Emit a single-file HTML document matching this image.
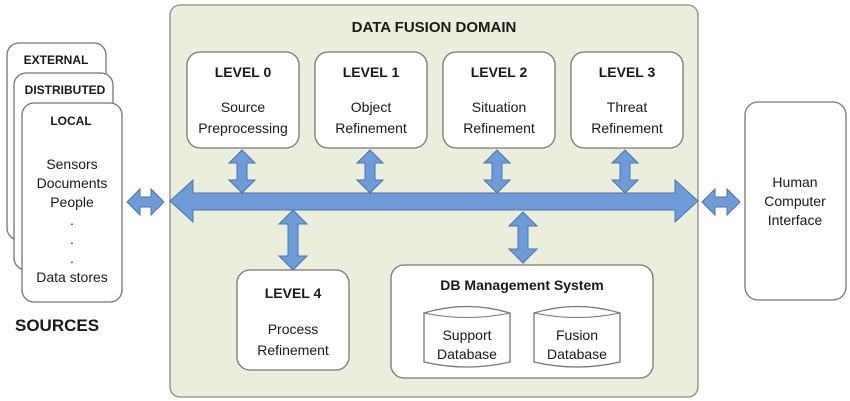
<!DOCTYPE html>
<html><head><style>body{margin:0;background:#fff}svg{display:block}text{font-family:"Liberation Sans",sans-serif;fill:#1a1a1a}</style></head><body>
<svg width="850" height="401" viewBox="0 0 850 401" xmlns="http://www.w3.org/2000/svg">
<defs>
<style>.b{fill:#fff;stroke:#777;stroke-width:1.3}.a{fill:#6f9bd8;stroke:#4d74aa;stroke-width:1}.t{font-size:14px;text-anchor:middle}.h{font-size:14px;font-weight:bold;text-anchor:middle}</style>
</defs>
<rect class="b" x="7" y="43" width="99" height="197" rx="12"/>
<rect class="b" x="14" y="73" width="99" height="197" rx="12"/>
<rect class="b" x="22" y="103" width="100" height="199" rx="12"/>
<text x="56" y="64" class="h" style="font-size:12px">EXTERNAL</text>
<text x="65" y="94" class="h" style="font-size:12px">DISTRIBUTED</text>
<text x="71" y="125" class="h" style="font-size:12px">LOCAL</text>
<text x="72" y="169" class="t">Sensors</text>
<text x="72" y="188" class="t">Documents</text>
<text x="72" y="207" class="t">People</text>
<text x="72" y="225" class="t">.</text>
<text x="72" y="244" class="t">.</text>
<text x="72" y="263" class="t">.</text>
<text x="72" y="282" class="t">Data stores</text>
<text x="15" y="331" style="font-size:17px;font-weight:bold">SOURCES</text>
<rect x="170" y="5" width="528" height="392" rx="10" fill="#ebeedc" stroke="#8a8a80" stroke-width="1.3"/>
<text x="434" y="32" class="h" style="font-size:15px">DATA FUSION DOMAIN</text>
<rect class="b" x="187" y="52" width="112" height="96" rx="13"/>
<rect class="b" x="315" y="52" width="112" height="96" rx="13"/>
<rect class="b" x="443" y="52" width="112" height="96" rx="13"/>
<rect class="b" x="571" y="52" width="112" height="96" rx="13"/>
<text x="243" y="77" class="h">LEVEL 0</text><text x="243" y="112" class="t">Source</text><text x="243" y="133" class="t">Preprocessing</text>
<text x="371" y="77" class="h">LEVEL 1</text><text x="371" y="112" class="t">Object</text><text x="371" y="133" class="t">Refinement</text>
<text x="499" y="77" class="h">LEVEL 2</text><text x="499" y="112" class="t">Situation</text><text x="499" y="133" class="t">Refinement</text>
<text x="627" y="77" class="h">LEVEL 3</text><text x="627" y="112" class="t">Threat</text><text x="627" y="133" class="t">Refinement</text>
<rect class="b" x="237" y="270" width="112" height="100" rx="13"/>
<text x="293" y="298" class="h">LEVEL 4</text><text x="293" y="334" class="t">Process</text><text x="293" y="355" class="t">Refinement</text>
<rect class="b" x="391" y="265" width="262" height="113" rx="13"/>
<text x="522" y="290" class="h">DB Management System</text>
<path class="b" d="M424 313 Q467 300 510 313 L510 362 Q467 372 424 362 Z"/>
<path d="M424 313 Q467 322 510 313" fill="none" stroke="#777"/>
<path class="b" d="M534 313 Q577 300 620 313 L620 362 Q577 372 534 362 Z"/>
<path d="M534 313 Q577 322 620 313" fill="none" stroke="#777"/>
<text x="467" y="340" class="t">Support</text><text x="467" y="359" class="t">Database</text>
<text x="577" y="340" class="t">Fusion</text><text x="577" y="359" class="t">Database</text>
<path class="a" d="M170 201 L193 180 L193 193 L675 193 L675 180 L698 201 L675 222 L675 210 L193 210 L193 222 Z"/>
<path class="a" d="M242 150 L255 163 L247 163 L247 180 L255 180 L242 193 L229 180 L237 180 L237 163 L229 163 Z"/>
<path class="a" d="M370 150 L383 163 L375 163 L375 180 L383 180 L370 193 L357 180 L365 180 L365 163 L357 163 Z"/>
<path class="a" d="M497 150 L510 163 L502 163 L502 180 L510 180 L497 193 L484 180 L492 180 L492 163 L484 163 Z"/>
<path class="a" d="M625 150 L638 163 L630 163 L630 180 L638 180 L625 193 L612 180 L620 180 L620 163 L612 163 Z"/>
<path class="a" d="M293 210 L307 224 L298 224 L298 256 L307 256 L293 270 L279 256 L288 256 L288 224 L279 224 Z"/>
<path class="a" d="M523 212 L537 226 L528 226 L528 249 L537 249 L523 263 L509 249 L518 249 L518 226 L509 226 Z"/>
<path class="a" d="M127 202 L140 189 L140 197 L151 197 L151 189 L164 202 L151 215 L151 207 L140 207 L140 215 Z"/>
<path class="a" d="M702 202 L715 189 L715 197 L727 197 L727 189 L740 202 L727 215 L727 207 L715 207 L715 215 Z"/>
<rect class="b" x="745" y="102" width="101" height="198" rx="13"/>
<text x="795" y="187" class="t">Human</text><text x="795" y="206" class="t">Computer</text><text x="795" y="225" class="t">Interface</text>
</svg>
</body></html>
